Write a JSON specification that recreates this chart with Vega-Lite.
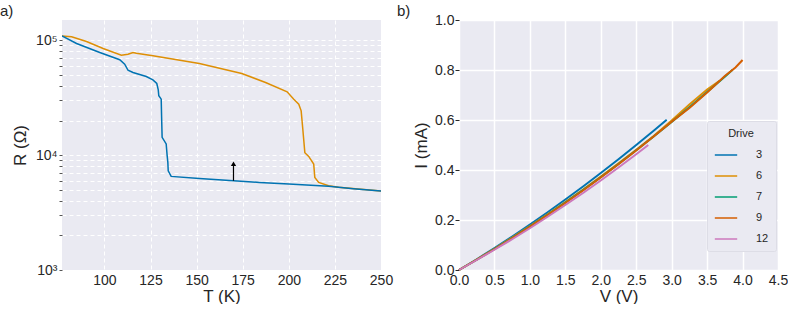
{
  "$schema": "https://vega.github.io/schema/vega-lite/v6.json",
  "padding": {"left": 0, "top": 4, "right": 0, "bottom": 0},
  "background": "white",
  "spacing": 4,
  "resolve": {"scale": {"color": "independent"}, "legend": {"color": "independent"}},
  "datasets": {
    "rt": [
      {"sweep": "cool", "i": 1, "T": 77, "R": 109000},
      {"sweep": "cool", "i": 2, "T": 84.9, "R": 93600},
      {"sweep": "cool", "i": 3, "T": 97.5, "R": 78200},
      {"sweep": "cool", "i": 4, "T": 108.3, "R": 67600},
      {"sweep": "cool", "i": 5, "T": 111, "R": 61800},
      {"sweep": "cool", "i": 6, "T": 112.8, "R": 54800},
      {"sweep": "cool", "i": 7, "T": 115.5, "R": 52400},
      {"sweep": "cool", "i": 8, "T": 122.7, "R": 48300},
      {"sweep": "cool", "i": 9, "T": 126.3, "R": 45200},
      {"sweep": "cool", "i": 10, "T": 128.4, "R": 42000},
      {"sweep": "cool", "i": 11, "T": 129.2, "R": 37000},
      {"sweep": "cool", "i": 12, "T": 129.5, "R": 32900},
      {"sweep": "cool", "i": 13, "T": 130.8, "R": 30700},
      {"sweep": "cool", "i": 14, "T": 131.0, "R": 22000},
      {"sweep": "cool", "i": 15, "T": 131.3, "R": 14300},
      {"sweep": "cool", "i": 16, "T": 133.5, "R": 12500},
      {"sweep": "cool", "i": 17, "T": 134.0, "R": 10000},
      {"sweep": "cool", "i": 18, "T": 134.4, "R": 8650},
      {"sweep": "cool", "i": 19, "T": 134.6, "R": 7310},
      {"sweep": "cool", "i": 20, "T": 136.2, "R": 6530},
      {"sweep": "cool", "i": 21, "T": 151.5, "R": 6270},
      {"sweep": "cool", "i": 22, "T": 170, "R": 5990},
      {"sweep": "cool", "i": 23, "T": 184, "R": 5790},
      {"sweep": "cool", "i": 24, "T": 200, "R": 5600},
      {"sweep": "cool", "i": 25, "T": 221.6, "R": 5350},
      {"sweep": "cool", "i": 26, "T": 235, "R": 5100},
      {"sweep": "cool", "i": 27, "T": 250, "R": 4860},
      {"sweep": "heat", "i": 1, "T": 77, "R": 109000},
      {"sweep": "heat", "i": 2, "T": 82.2, "R": 107000},
      {"sweep": "heat", "i": 3, "T": 90.3, "R": 97500},
      {"sweep": "heat", "i": 4, "T": 99.3, "R": 84700},
      {"sweep": "heat", "i": 5, "T": 109.2, "R": 74100},
      {"sweep": "heat", "i": 6, "T": 112.8, "R": 75500},
      {"sweep": "heat", "i": 7, "T": 115.5, "R": 78200},
      {"sweep": "heat", "i": 8, "T": 117.3, "R": 77100},
      {"sweep": "heat", "i": 9, "T": 126.3, "R": 73200},
      {"sweep": "heat", "i": 10, "T": 151.5, "R": 62700},
      {"sweep": "heat", "i": 11, "T": 174.5, "R": 51300},
      {"sweep": "heat", "i": 12, "T": 187.4, "R": 42900},
      {"sweep": "heat", "i": 13, "T": 199.1, "R": 35600},
      {"sweep": "heat", "i": 14, "T": 202.7, "R": 30700},
      {"sweep": "heat", "i": 15, "T": 205.4, "R": 27700},
      {"sweep": "heat", "i": 16, "T": 206.7, "R": 24300},
      {"sweep": "heat", "i": 17, "T": 207.6, "R": 16800},
      {"sweep": "heat", "i": 18, "T": 208.7, "R": 10500},
      {"sweep": "heat", "i": 19, "T": 210.8, "R": 9750},
      {"sweep": "heat", "i": 20, "T": 213.5, "R": 8360},
      {"sweep": "heat", "i": 21, "T": 214.1, "R": 6400},
      {"sweep": "heat", "i": 22, "T": 216.2, "R": 5790},
      {"sweep": "heat", "i": 23, "T": 221.6, "R": 5420},
      {"sweep": "heat", "i": 24, "T": 227, "R": 5240},
      {"sweep": "heat", "i": 25, "T": 250, "R": 4860}
    ],
    "arrow": [{"T": 170, "R1": 5990, "R2": 8100, "Rh": 8400}],
    "iv": [
      {"drive": "3", "V": 0, "I": 0},
      {"drive": "3", "V": 0.25, "I": 0.043},
      {"drive": "3", "V": 0.5, "I": 0.088},
      {"drive": "3", "V": 0.75, "I": 0.134},
      {"drive": "3", "V": 1.0, "I": 0.182},
      {"drive": "3", "V": 1.25, "I": 0.231},
      {"drive": "3", "V": 1.5, "I": 0.282},
      {"drive": "3", "V": 1.75, "I": 0.334},
      {"drive": "3", "V": 2.0, "I": 0.388},
      {"drive": "3", "V": 2.25, "I": 0.443},
      {"drive": "3", "V": 2.5, "I": 0.5},
      {"drive": "3", "V": 2.75, "I": 0.558},
      {"drive": "3", "V": 2.93, "I": 0.601},
      {"drive": "6", "V": 0, "I": 0},
      {"drive": "6", "V": 0.25, "I": 0.042},
      {"drive": "6", "V": 0.5, "I": 0.085},
      {"drive": "6", "V": 0.75, "I": 0.13},
      {"drive": "6", "V": 1.0, "I": 0.176},
      {"drive": "6", "V": 1.25, "I": 0.223},
      {"drive": "6", "V": 1.5, "I": 0.272},
      {"drive": "6", "V": 1.75, "I": 0.322},
      {"drive": "6", "V": 2.0, "I": 0.374},
      {"drive": "6", "V": 2.25, "I": 0.427},
      {"drive": "6", "V": 2.5, "I": 0.481},
      {"drive": "6", "V": 2.75, "I": 0.537},
      {"drive": "6", "V": 3.0, "I": 0.598},
      {"drive": "6", "V": 3.25, "I": 0.662},
      {"drive": "6", "V": 3.5, "I": 0.722},
      {"drive": "6", "V": 3.68, "I": 0.758},
      {"drive": "7", "V": 0, "I": 0},
      {"drive": "7", "V": 0.25, "I": 0.041},
      {"drive": "7", "V": 0.5, "I": 0.084},
      {"drive": "7", "V": 0.75, "I": 0.128},
      {"drive": "7", "V": 1.0, "I": 0.174},
      {"drive": "7", "V": 1.25, "I": 0.221},
      {"drive": "7", "V": 1.5, "I": 0.27},
      {"drive": "7", "V": 1.75, "I": 0.32},
      {"drive": "7", "V": 2.0, "I": 0.371},
      {"drive": "7", "V": 2.25, "I": 0.424},
      {"drive": "7", "V": 2.5, "I": 0.479},
      {"drive": "7", "V": 2.75, "I": 0.535},
      {"drive": "7", "V": 3.0, "I": 0.592},
      {"drive": "7", "V": 3.25, "I": 0.651},
      {"drive": "7", "V": 3.5, "I": 0.712},
      {"drive": "7", "V": 3.75, "I": 0.773},
      {"drive": "7", "V": 3.86, "I": 0.801},
      {"drive": "9", "V": 0, "I": 0},
      {"drive": "9", "V": 0.25, "I": 0.041},
      {"drive": "9", "V": 0.5, "I": 0.083},
      {"drive": "9", "V": 0.75, "I": 0.127},
      {"drive": "9", "V": 1.0, "I": 0.173},
      {"drive": "9", "V": 1.25, "I": 0.22},
      {"drive": "9", "V": 1.5, "I": 0.268},
      {"drive": "9", "V": 1.75, "I": 0.318},
      {"drive": "9", "V": 2.0, "I": 0.37},
      {"drive": "9", "V": 2.25, "I": 0.423},
      {"drive": "9", "V": 2.5, "I": 0.478},
      {"drive": "9", "V": 2.75, "I": 0.535},
      {"drive": "9", "V": 3.0, "I": 0.593},
      {"drive": "9", "V": 3.25, "I": 0.648},
      {"drive": "9", "V": 3.5, "I": 0.71},
      {"drive": "9", "V": 3.75, "I": 0.776},
      {"drive": "9", "V": 3.9, "I": 0.81},
      {"drive": "9", "V": 4.0, "I": 0.84},
      {"drive": "12", "V": 0, "I": 0},
      {"drive": "12", "V": 0.25, "I": 0.04},
      {"drive": "12", "V": 0.5, "I": 0.081},
      {"drive": "12", "V": 0.75, "I": 0.123},
      {"drive": "12", "V": 1.0, "I": 0.167},
      {"drive": "12", "V": 1.25, "I": 0.213},
      {"drive": "12", "V": 1.5, "I": 0.26},
      {"drive": "12", "V": 1.75, "I": 0.308},
      {"drive": "12", "V": 2.0, "I": 0.358},
      {"drive": "12", "V": 2.25, "I": 0.41},
      {"drive": "12", "V": 2.5, "I": 0.463},
      {"drive": "12", "V": 2.67, "I": 0.5}
    ]
  },
  "config": {
    "font": "Liberation Sans",
    "view": {"stroke": null, "fill": "#EAEAF2"},
    "axis": {
      "domain": false,
      "labelFlush": false,
      "labelFont": "Liberation Sans",
      "labelFontSize": 14,
      "labelColor": "#262626",
      "titleFont": "Liberation Sans",
      "titleFontSize": 17,
      "titleFontWeight": "normal",
      "titleColor": "#262626",
      "gridColor": "white",
      "tickColor": "#555555"
    },
    "title": {"fontSize": 15, "fontWeight": "normal", "font": "Liberation Sans", "color": "#262626", "anchor": "start", "frame": "group", "dx": -62},
    "legend": {"labelFont": "Liberation Sans", "titleFont": "Liberation Sans"}
  },
  "hconcat": [
    {
      "title": {"text": "a)", "offset": -3, "dy": -4},
      "width": 319,
      "height": 250,
      "layer": [
        {
          "data": {"name": "rt"},
          "transform": [{"filter": "datum.sweep == 'heat'"}],
          "mark": {"type": "line", "color": "#DE8F05", "strokeWidth": 1.5, "clip": true},
          "encoding": {
            "x": {"field": "T", "type": "quantitative", "scale": {"domain": [77, 250], "nice": false, "zero": false},
              "axis": {"title": "T (K)", "values": [100, 125, 150, 175, 200, 225, 250], "gridDash": [4, 3], "gridWidth": 1, "ticks": false, "labelPadding": 3, "titlePadding": 1}},
            "y": {"field": "R", "type": "quantitative", "scale": {"type": "log", "domain": [1000, 150000], "nice": false},
              "axis": {"title": "R (Ω)", "values": [1000, 2000, 3000, 4000, 5000, 6000, 7000, 8000, 9000, 10000, 20000, 30000, 40000, 50000, 60000, 70000, 80000, 90000, 100000],
                "labelExpr": "datum.value == 1000 ? '10³' : datum.value == 10000 ? '10⁴' : datum.value == 100000 ? '10⁵' : ''",
                "gridDash": [4, 3], "gridWidth": 1, "tickSize": 3, "labelPadding": 2, "titlePadding": 6}},
            "order": {"field": "i", "type": "quantitative"}
          }
        },
        {
          "data": {"name": "rt"},
          "transform": [{"filter": "datum.sweep == 'cool'"}],
          "mark": {"type": "line", "color": "#0173B2", "strokeWidth": 1.5, "clip": true},
          "encoding": {
            "x": {"field": "T", "type": "quantitative"},
            "y": {"field": "R", "type": "quantitative"},
            "order": {"field": "i", "type": "quantitative"}
          }
        },
        {
          "data": {"name": "arrow"},
          "mark": {"type": "rule", "color": "black", "strokeWidth": 1.2},
          "encoding": {
            "x": {"field": "T", "type": "quantitative"},
            "y": {"field": "R1", "type": "quantitative"},
            "y2": {"field": "R2"}
          }
        },
        {
          "data": {"name": "arrow"},
          "mark": {"type": "point", "shape": "triangle-up", "filled": true, "color": "black", "size": 28, "opacity": 1},
          "encoding": {
            "x": {"field": "T", "type": "quantitative"},
            "y": {"field": "Rh", "type": "quantitative"}
          }
        }
      ]
    },
    {
      "title": {"text": "b)", "offset": -3, "dy": 3},
      "width": 319,
      "height": 250,
      "data": {"name": "iv"},
      "mark": {"type": "line", "strokeWidth": 2},
      "encoding": {
        "x": {"field": "V", "type": "quantitative", "scale": {"domain": [0, 4.5], "nice": false},
          "axis": {"title": "V (V)", "values": [0, 0.5, 1, 1.5, 2, 2.5, 3, 3.5, 4, 4.5], "format": ".1f", "ticks": false, "labelPadding": 3, "titlePadding": 1, "gridWidth": 1.5}},
        "y": {"field": "I", "type": "quantitative", "scale": {"domain": [0, 1], "nice": false},
          "axis": {"title": "I (mA)", "values": [0, 0.2, 0.4, 0.6, 0.8, 1.0], "format": ".1f", "tickSize": 4, "tickColor": "#262626", "labelPadding": 1, "titlePadding": 4, "gridWidth": 1.5}},
        "color": {"field": "drive", "type": "nominal",
          "scale": {"domain": ["3", "6", "7", "9", "12"], "range": ["#0173B2", "#DE8F05", "#029E73", "#D55E00", "#CC78BC"]},
          "legend": {"title": "Drive", "orient": "none", "legendX": 248, "legendY": 101, "titleFontSize": 11, "titleFontWeight": "normal", "titleColor": "#262626", "titleAnchor": "middle", "titlePadding": 4,
            "labelFontSize": 11, "labelColor": "#262626", "labelOffset": 18, "symbolType": "stroke", "symbolSize": 500, "symbolStrokeWidth": 1.5,
            "rowPadding": 4, "fillColor": "#EAEAF2", "strokeColor": "#DDDDE6", "padding": 7, "cornerRadius": 2}},
        "order": {"field": "V", "type": "quantitative"}
      }
    }
  ]
}
